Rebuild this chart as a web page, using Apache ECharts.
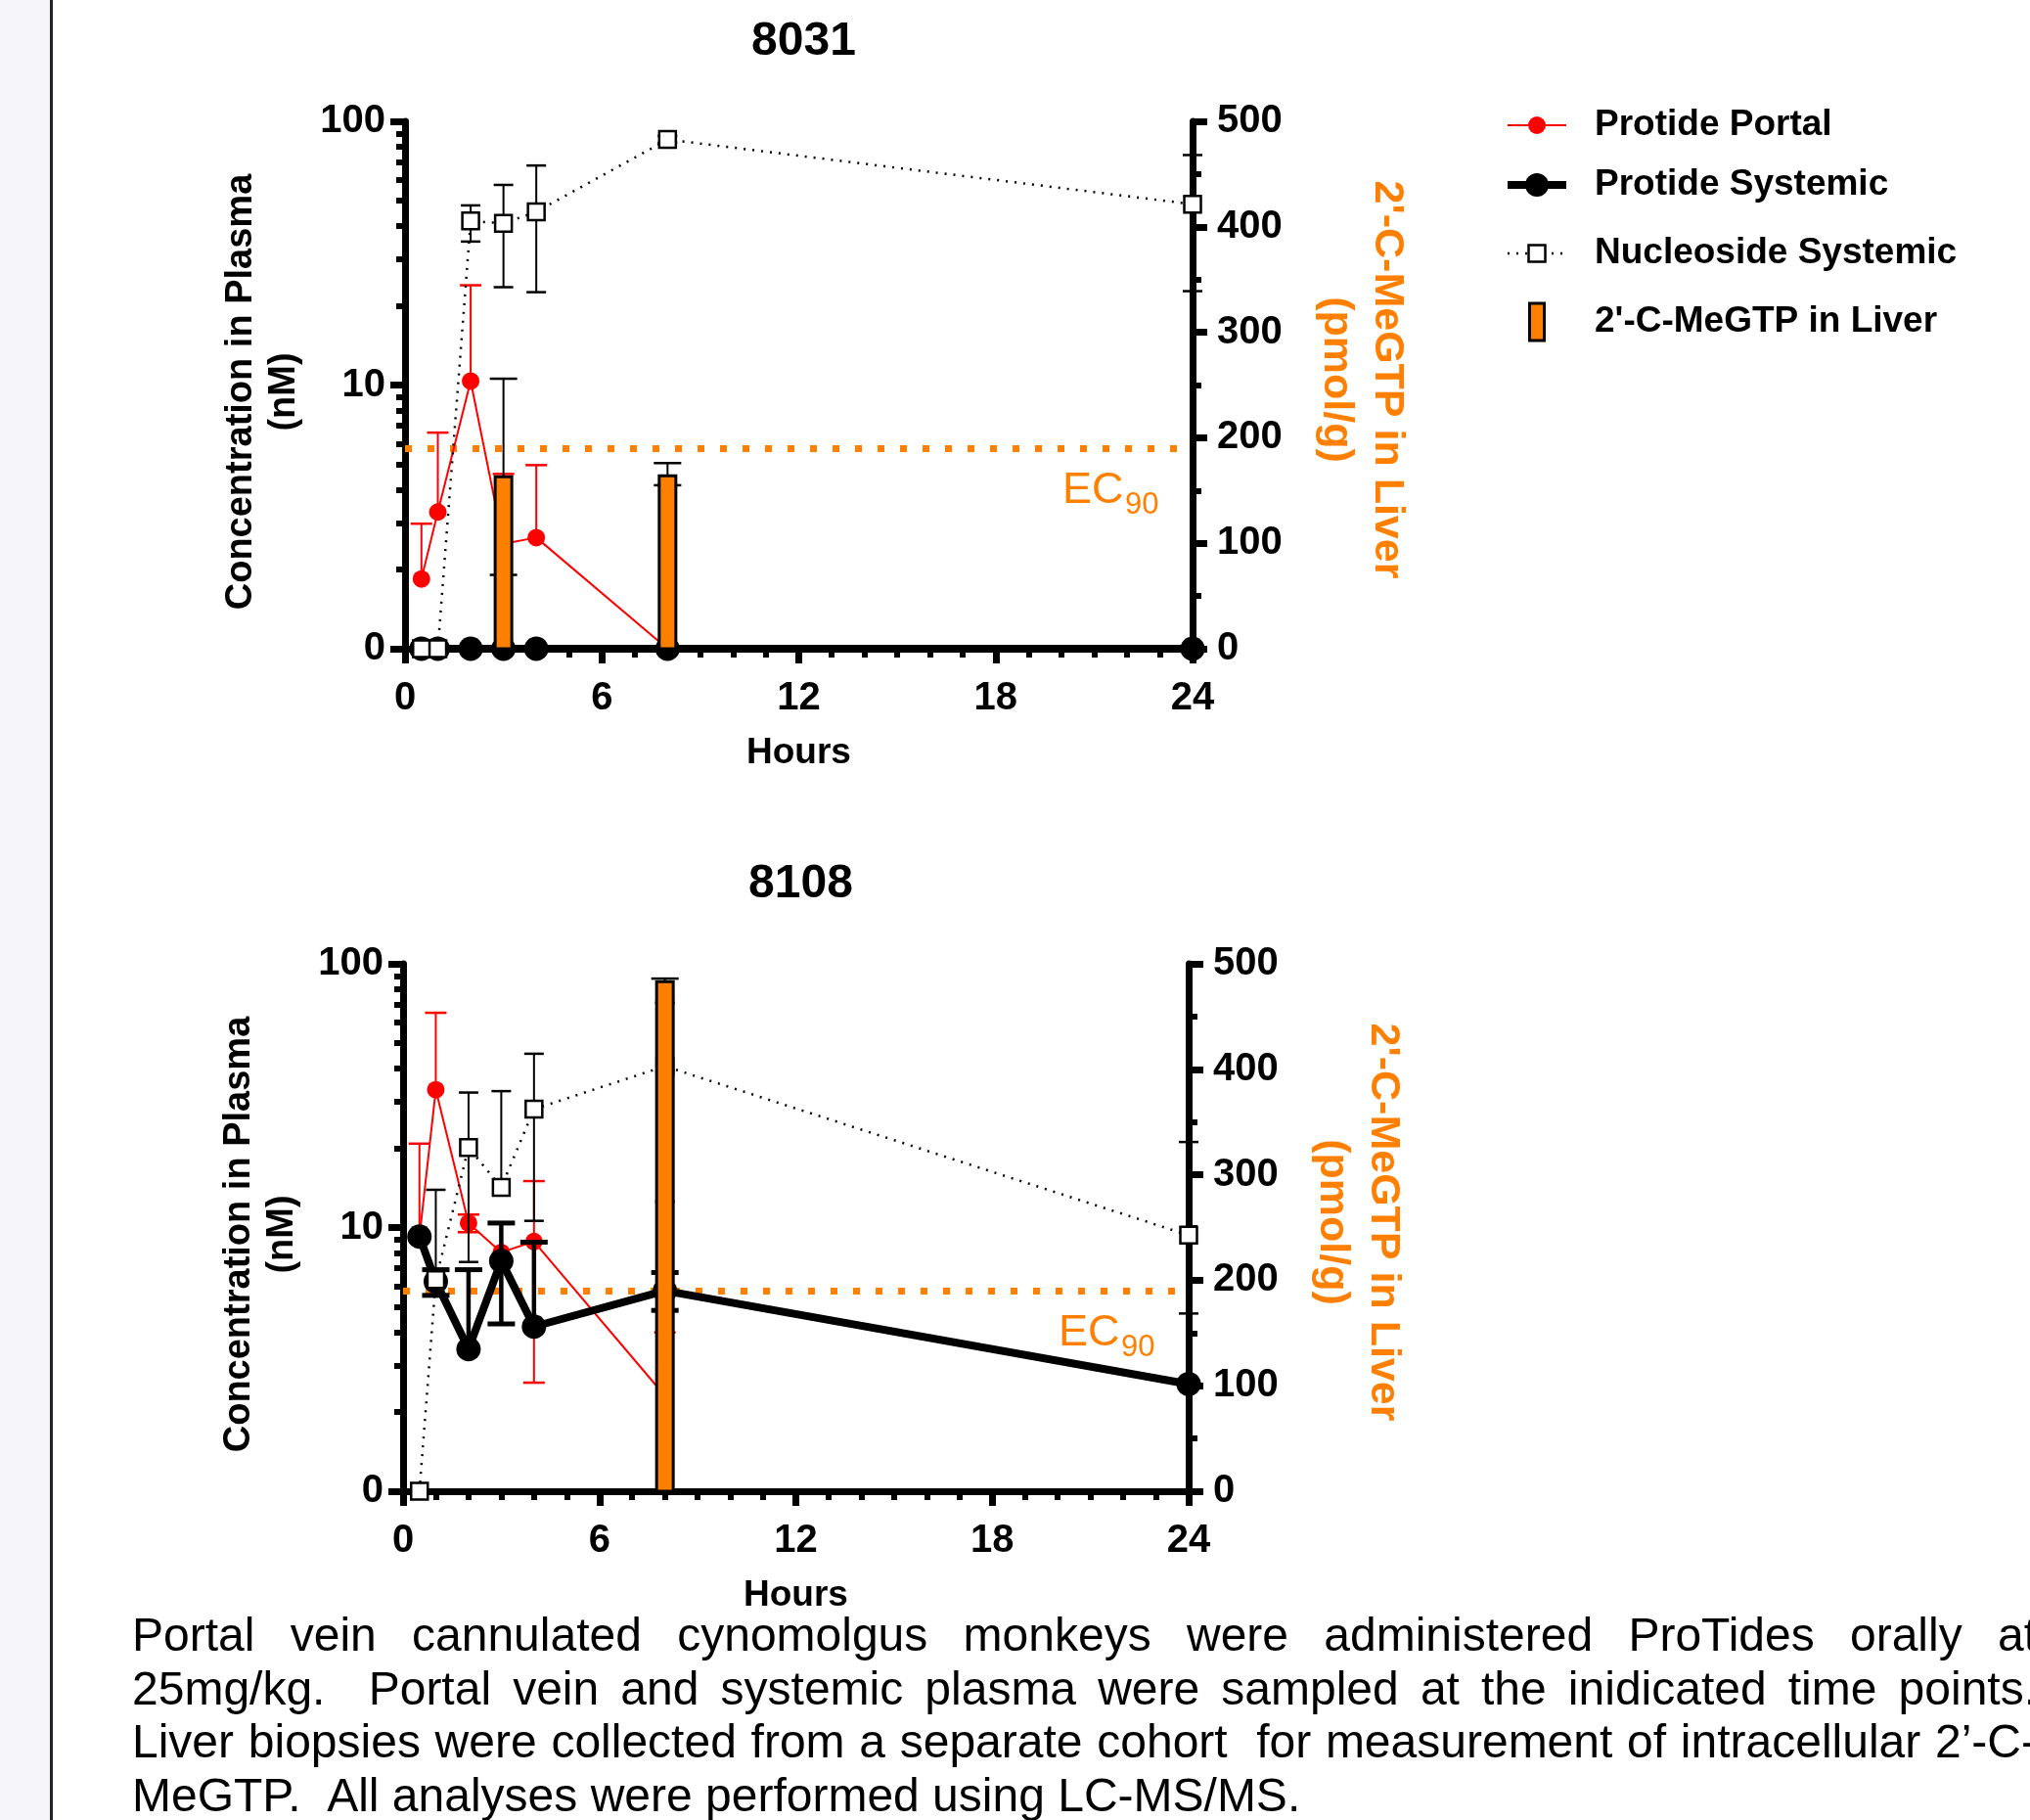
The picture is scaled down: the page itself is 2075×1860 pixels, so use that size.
<!DOCTYPE html>
<html><head><meta charset="utf-8">
<script src="https://cdn.jsdelivr.net/npm/echarts@6/dist/echarts.min.js"></script>
<style>html,body{margin:0;padding:0;background:#fff;} #c{width:2075px;height:1860px;}</style>
</head><body><div id="c"></div>
<script>
// ================= DATA =================
const hours = [0.5, 1, 2, 3, 4, 8, 24];
const portalHours = [0.5, 1, 2, 3, 4, 8];
const plasmaTicks = [1, 10, 100];              // 1 is labelled "0"
const plasmaMinorTicks = [2, 3, 4, 5, 6, 7, 8, 9, 20, 30, 40, 50, 60, 70, 80, 90];
const hourTicks = [0, 6, 12, 18, 24];
const liverTicks = [0, 100, 200, 300, 400, 500];
const ec90 = 5.75; // nM

// ---- Monkey 8031 ----
const portal8031   = [1.84, 3.3, 10.35, 2.5, 2.64, 0];
const portal8031Lo = [null, null, null, null, null, null];
const portal8031Hi = [2.98, 6.6, 23.9, 4.6, 4.97, null];
const systemic8031   = [0, 0, 0, 0, 0, 0, 0];
const systemic8031Lo = [null, null, null, null, null, null, null];
const systemic8031Hi = [null, null, null, null, null, null, null];
const nucleoside8031   = [0, 0, 41.9, 41, 45.4, 85.3, 48.5];
const nucleoside8031Lo = [null, null, 35, 23.5, 22.5, 83, 22.7];
const nucleoside8031Hi = [null, null, 48, 57.4, 68, 88, 74.5];
const liverHours8031 = [3, 8];
const liver8031   = [163, 164];
const liver8031Lo = [70, 155];
const liver8031Hi = [256, 176];

// ---- Monkey 8108 ----
const portal8108   = [9.2, 33.3, 10.4, 8.05, 8.85, 2.3];
const portal8108Lo = [null, null, 9.6, null, 2.58, null];
const portal8108Hi = [20.8, 65.2, 11.2, null, 15.0, 4.0];
const systemic8108   = [9.24, 6.24, 3.46, 7.47, 4.21, 5.76, 2.55];
const systemic8108Lo = [null, 5.53, null, 4.31, null, 4.85, null];
const systemic8108Hi = [null, 6.92, 6.92, 10.4, 8.8, 6.75, null];
const nucleoside8108   = [0, 6.34, 20.1, 14.2, 28.1, 40.9, 9.35];
const nucleoside8108Lo = [null, null, 7.4, null, 10.6, 12.5, 4.72];
const nucleoside8108Hi = [null, 13.9, 32.5, 32.9, 45.6, 71.3, 21.1];
const liverHours8108 = [8];
const liver8108   = [483];
const liver8108Lo = [null];
const liver8108Hi = [486];

const captionLines = [
  'Portal vein cannulated cynomolgus monkeys were administered ProTides orally at',
  '25mg/kg.  Portal vein and systemic plasma were sampled at the inidicated time points.',
  'Liver biopsies were collected from a separate cohort  for measurement of intracellular 2\u2019-C-',
  'MeGTP.  All analyses were performed using LC-MS/MS.'
];

// ================= BUILD =================
const FONT = '"Liberation Sans", Arial, Helvetica, sans-serif';
const ORANGE = '#FF8000', RED = '#FF0000', BLACK = '#000';

const panels = [
  { title: '8031', left: 414, top: 124, width: 805, height: 539,
    portal: portal8031, portalLo: portal8031Lo, portalHi: portal8031Hi,
    sys: systemic8031, sysLo: systemic8031Lo, sysHi: systemic8031Hi,
    nuc: nucleoside8031, nucLo: nucleoside8031Lo, nucHi: nucleoside8031Hi,
    lh: liverHours8031, liver: liver8031, liverLo: liver8031Lo, liverHi: liver8031Hi },
  { title: '8108', left: 412, top: 985, width: 803, height: 539,
    portal: portal8108, portalLo: portal8108Lo, portalHi: portal8108Hi,
    sys: systemic8108, sysLo: systemic8108Lo, sysHi: systemic8108Hi,
    nuc: nucleoside8108, nucLo: nucleoside8108Lo, nucHi: nucleoside8108Hi,
    lh: liverHours8108, liver: liver8108, liverLo: liver8108Lo, liverHi: liver8108Hi }
];

// a plotted "0" sits on the floor of the log axis, which is labelled 0
const z0 = v => (v === 0 ? 1 : v);
const pts = (xs, ys) => xs.map((x, k) => [x, z0(ys[k])]);
function errPts(xs, ys, lo, hi) {
  const out = [];
  xs.forEach((x, k) => {
    if (lo[k] == null && hi[k] == null) return;
    const v = z0(ys[k]);
    out.push([x, lo[k] == null ? v : lo[k], hi[k] == null ? v : hi[k], lo[k] == null ? 0 : 1, hi[k] == null ? 0 : 1]);
  });
  return out;
}
function errRender(color, stemW, capW, capH) {
  return function (params, api) {
    const x = api.value(0), lo = api.value(1), hi = api.value(2);
    const hasLo = api.value(3), hasHi = api.value(4);
    const pT = api.coord([x, hi]), pB = api.coord([x, lo]);
    const ch = [{ type: 'line', shape: { x1: pT[0], y1: pT[1], x2: pB[0], y2: pB[1] }, style: { stroke: color, lineWidth: stemW } }];
    if (hasHi) ch.push({ type: 'line', shape: { x1: pT[0] - capW / 2, y1: pT[1], x2: pT[0] + capW / 2, y2: pT[1] }, style: { stroke: color, lineWidth: capH } });
    if (hasLo) ch.push({ type: 'line', shape: { x1: pB[0] - capW / 2, y1: pB[1], x2: pB[0] + capW / 2, y2: pB[1] }, style: { stroke: color, lineWidth: capH } });
    return { type: 'group', children: ch };
  };
}
// liver bars: drawn through the axes (x = hour, from 0 up to the value on the right axis)
function barRender(barW) {
  return function (params, api) {
    const x = api.value(0), v = api.value(1);
    const pTop = api.coord([x, v]), pBase = api.coord([x, 0]);
    return {
      type: 'rect',
      shape: { x: pTop[0] - barW / 2, y: pTop[1], width: barW, height: pBase[1] - pTop[1] },
      style: { fill: ORANGE, stroke: BLACK, lineWidth: 3 }
    };
  };
}

const boldLabel = (size, color) => ({ fontSize: size, fontWeight: 'bold', fontFamily: FONT, color: color || BLACK });
const AXW = 7;

const grid = [], xAxis = [], yAxis = [], series = [], title = [];
panels.forEach((p, i) => {
  grid.push({ left: p.left, top: p.top, width: p.width, height: p.height, containLabel: false });
  xAxis.push({
    gridIndex: i, type: 'value', min: 0, max: 24, interval: 6,
    axisLine: { show: true, onZero: false, lineStyle: { color: BLACK, width: AXW } },
    axisTick: { show: true, length: 15, lineStyle: { color: BLACK, width: AXW } },
    minorTick: { show: true, splitNumber: 6, length: 9, lineStyle: { color: BLACK, width: 6 } },
    splitLine: { show: false }, minorSplitLine: { show: false },
    axisLabel: Object.assign({ margin: 31, formatter: v => hourTicks.includes(v) ? String(v) : '' }, boldLabel(40)),
    name: 'Hours', nameLocation: 'middle', nameGap: 88, nameTextStyle: boldLabel(37)
  });
  // left: plasma (log)
  yAxis.push({
    gridIndex: i, type: 'log', logBase: 10, min: 1, max: 100, position: 'left',
    axisLine: { show: true, onZero: false, lineStyle: { color: BLACK, width: AXW } },
    axisTick: { show: true, length: 15, lineStyle: { color: BLACK, width: AXW }, customValues: plasmaTicks },
    axisLabel: Object.assign({ margin: 20, customValues: plasmaTicks, formatter: v => (Math.round(v) === 1 ? '0' : String(Math.round(v))) }, boldLabel(40)),
    splitLine: { show: false },
    name: 'Concentration in Plasma\n(nM)', nameLocation: 'middle', nameRotate: 90, nameGap: 101,
    nameTextStyle: Object.assign({ lineHeight: 44, padding: [0, 14, 0, 0] }, boldLabel(38))
  });
  // right: liver
  yAxis.push({
    gridIndex: i, type: 'value', min: 0, max: 500, interval: 100, position: 'right',
    axisLine: { show: true, onZero: false, lineStyle: { color: BLACK, width: AXW } },
    axisTick: { show: true, length: 15, lineStyle: { color: BLACK, width: AXW } },
    minorTick: { show: true, splitNumber: 2, length: 9, lineStyle: { color: BLACK, width: 6 } },
    axisLabel: Object.assign({ margin: 25 }, boldLabel(40)),
    splitLine: { show: false }, minorSplitLine: { show: false },
    name: "2'-C-MeGTP in Liver\n(pmol/g)", nameLocation: 'middle', nameRotate: -90, nameGap: 121,
    nameTextStyle: Object.assign({ lineHeight: 52, padding: [0, 11, 0, 0] }, boldLabel(43, ORANGE))
  });
  // left minor ticks of the log axis
  yAxis.push({
    gridIndex: i, type: 'log', logBase: 10, min: 1, max: 100, position: 'left',
    axisLine: { show: false, onZero: false },
    axisTick: { show: true, length: 9, lineStyle: { color: BLACK, width: 6 }, customValues: plasmaMinorTicks },
    axisLabel: { show: false }, splitLine: { show: false }
  });

  const yl = 3 * i, yr = 3 * i + 1;
  series.push({
    type: 'custom', name: 'Protide Portal error', xAxisIndex: i, yAxisIndex: yl, silent: true, z: 2,
    data: errPts(portalHours, p.portal, p.portalLo, p.portalHi), encode: { x: 0, y: [1, 2] },
    renderItem: errRender(RED, 2, 22, 2.5)
  });
  series.push({
    type: 'line', name: 'Protide Portal', xAxisIndex: i, yAxisIndex: yl, z: 3, clip: false,
    data: pts(portalHours, p.portal), symbol: 'circle', symbolSize: 18,
    itemStyle: { color: RED }, lineStyle: { color: RED, width: 2 }, emphasis: { disabled: true },
    markLine: {
      silent: true, symbol: ['none', 'none'], label: { show: false }, z: 1,
      lineStyle: { color: ORANGE, width: 7, type: [7, 16] },
      data: [{ yAxis: ec90 }]
    }
  });
  series.push({
    type: 'custom', name: 'Protide Systemic error', xAxisIndex: i, yAxisIndex: yl, silent: true, z: 4,
    data: errPts(hours, p.sys, p.sysLo, p.sysHi), encode: { x: 0, y: [1, 2] },
    renderItem: errRender(BLACK, 4.5, 28, 5)
  });
  series.push({
    type: 'line', name: 'Protide Systemic', xAxisIndex: i, yAxisIndex: yl, z: 5, clip: false,
    data: pts(hours, p.sys), symbol: 'circle', symbolSize: 25,
    itemStyle: { color: BLACK }, lineStyle: { color: BLACK, width: 8 }, emphasis: { disabled: true }
  });
  series.push({
    type: 'custom', name: 'Nucleoside Systemic error', xAxisIndex: i, yAxisIndex: yl, silent: true, z: 6,
    data: errPts(hours, p.nuc, p.nucLo, p.nucHi), encode: { x: 0, y: [1, 2] },
    renderItem: errRender(BLACK, 2, 20, 2.5)
  });
  series.push({
    type: 'line', name: 'Nucleoside Systemic', xAxisIndex: i, yAxisIndex: yl, z: 7, clip: false,
    data: pts(hours, p.nuc), symbol: 'rect', symbolSize: 17,
    itemStyle: { color: '#fff', borderColor: BLACK, borderWidth: 2.5 },
    lineStyle: { color: BLACK, width: 2.5, type: [2, 7] }, emphasis: { disabled: true }
  });
  series.push({
    type: 'custom', name: 'Liver error', xAxisIndex: i, yAxisIndex: yr, silent: true, z: 7.5,
    data: errPts(p.lh, p.liver, p.liverLo, p.liverHi), encode: { x: 0, y: [1, 2] },
    renderItem: errRender(BLACK, 2, 28, 2.5)
  });
  series.push({
    type: 'custom', name: "2'-C-MeGTP in Liver", xAxisIndex: i, yAxisIndex: yr, z: 8, silent: true,
    data: p.lh.map((h, k) => [h, p.liver[k]]), encode: { x: 0, y: 1 },
    renderItem: barRender(17)
  });
  title.push({
    text: p.title, left: p.left + p.width / 2, top: p.top - 110, textAlign: 'center',
    textStyle: boldLabel(48)
  });
});

const chart = echarts.init(document.getElementById('c'), null, { renderer: 'canvas' });
chart.setOption({
  backgroundColor: '#fff', animation: false,
  title, grid, xAxis, yAxis, series
});

// ---------- graphics: page strip, legend, EC90 labels, caption ----------
const graphic = [];
graphic.push({ type: 'rect', shape: { x: 0, y: 0, width: 51, height: 1860 }, style: { fill: '#F5F5FA' }, z: -10 });
graphic.push({ type: 'line', shape: { x1: 52.5, y1: 0, x2: 52.5, y2: 1860 }, style: { stroke: '#222', lineWidth: 3 }, z: -9 });

// legend
const LX0 = 1541, LX1 = 1601, LXC = 1571, LTX = 1630;
const legendRows = [
  { y: 128, text: 'Protide Portal' },
  { y: 189, text: 'Protide Systemic' },
  { y: 259, text: 'Nucleoside Systemic' },
  { y: 329, text: "2'-C-MeGTP in Liver" }
];
const r = legendRows;
graphic.push({ type: 'line', shape: { x1: LX0, y1: r[0].y, x2: LX1, y2: r[0].y }, style: { stroke: RED, lineWidth: 2 } });
graphic.push({ type: 'circle', shape: { cx: LXC, cy: r[0].y, r: 9 }, style: { fill: RED } });
graphic.push({ type: 'line', shape: { x1: LX0, y1: r[1].y, x2: LX1, y2: r[1].y }, style: { stroke: BLACK, lineWidth: 8 } });
graphic.push({ type: 'circle', shape: { cx: LXC, cy: r[1].y, r: 12 }, style: { fill: BLACK } });
graphic.push({ type: 'line', shape: { x1: LX0, y1: r[2].y, x2: LX1, y2: r[2].y }, style: { stroke: BLACK, lineWidth: 2.5, lineDash: [2, 7] } });
graphic.push({ type: 'rect', shape: { x: LXC - 8.5, y: r[2].y - 8.5, width: 17, height: 17 }, style: { fill: '#fff', stroke: BLACK, lineWidth: 2.5 } });
graphic.push({ type: 'rect', shape: { x: LXC - 7.5, y: r[3].y - 19, width: 15, height: 38 }, style: { fill: ORANGE, stroke: BLACK, lineWidth: 3 } });
legendRows.forEach(row => graphic.push({
  type: 'text', x: LTX, y: row.y,
  style: { text: row.text, fontSize: 37, fontWeight: 'bold', fontFamily: FONT, fill: BLACK, verticalAlign: 'middle', align: 'left' }
}));

// EC90 labels
panels.forEach((p, i) => {
  const yPix = chart.convertToPixel({ yAxisIndex: 3 * i }, ec90);
  const xr = p.left + p.width;
  graphic.push({ type: 'text', x: xr - 133, y: yPix + 43,
    style: { text: 'EC', fontSize: 45, fontFamily: FONT, fill: ORANGE, verticalAlign: 'middle', align: 'left' } });
  graphic.push({ type: 'text', x: xr - 69, y: yPix + 58,
    style: { text: '90', fontSize: 31, fontFamily: FONT, fill: ORANGE, verticalAlign: 'middle', align: 'left' } });
});

// caption (justified lines 1-3)
const CAP_SIZE = 48, CAP_X = 135, CAP_RIGHT = 2082, CAP_Y0 = 1674, CAP_DY = 54.5;
const ctx = document.createElement('canvas').getContext('2d');
ctx.font = CAP_SIZE + 'px ' + FONT;
const spaceW = ctx.measureText(' ').width;
captionLines.forEach((line, li) => {
  const tokens = line.split(' ');
  const nSpaces = tokens.length - 1;
  const natural = ctx.measureText(line).width;
  const justify = li < captionLines.length - 1;
  const extra = justify && nSpaces > 0 ? (CAP_RIGHT - CAP_X - natural) / nSpaces : 0;
  let x = CAP_X;
  tokens.forEach((tok, k) => {
    if (tok.length) {
      graphic.push({ type: 'text', x: x, y: CAP_Y0 + li * CAP_DY,
        style: { text: tok, fontSize: CAP_SIZE, fontFamily: FONT, fill: BLACK, verticalAlign: 'middle', align: 'left' } });
      x += ctx.measureText(tok).width;
    }
    if (k < tokens.length - 1) x += spaceW + extra;
  });
});

chart.setOption({ graphic });
</script>
</body></html>
